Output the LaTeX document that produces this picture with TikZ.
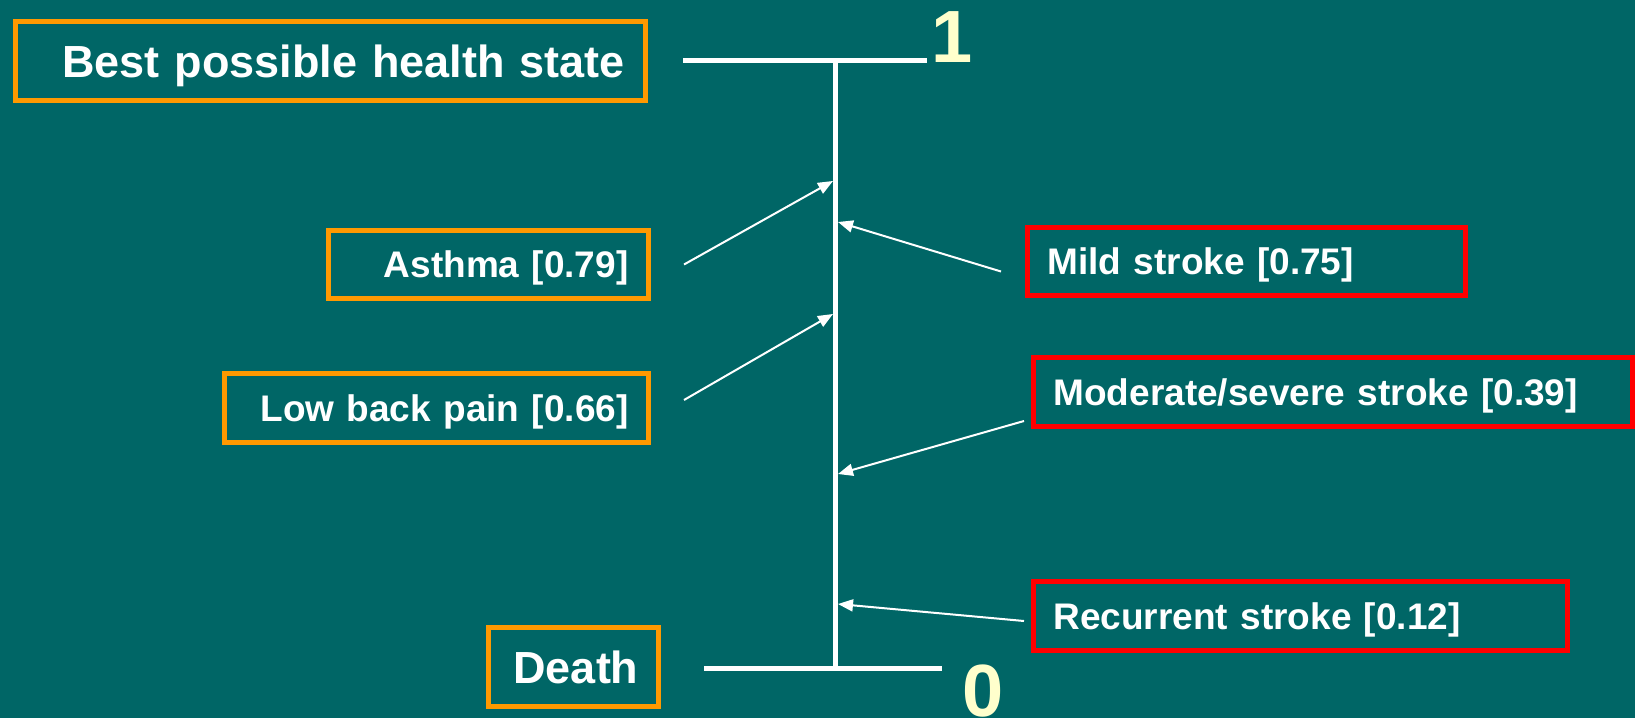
\documentclass[tikz,border=0pt]{standalone}
\usepackage{fontspec}
\setmainfont{Liberation Sans}
\usetikzlibrary{arrows.meta}
\definecolor{bgteal}{RGB}{0,102,102}
\definecolor{boxorange}{RGB}{255,153,0}
\definecolor{boxred}{RGB}{255,0,0}
\definecolor{cream}{RGB}{255,255,204}
\begin{document}
\begin{tikzpicture}[x=.5pt,y=-.5pt,
  healthbox/.style={draw=#1,line width=2.5pt,text=white,inner xsep=10pt,inner ysep=0pt,text depth=0pt},
  leftbox/.style={healthbox=boxorange,align=right},
  rightbox/.style={healthbox=boxred,align=left,font=\fontsize{18.5}{22}\selectfont\bfseries},
  bigtext/.style={font=\fontsize{22.5}{27}\selectfont\bfseries},
  smalltext/.style={font=\fontsize{18.5}{22}\selectfont\bfseries},
  endlabel/.style={text=cream,font=\fontsize{37}{44}\selectfont\bfseries,anchor=base,inner sep=0pt},
  scaleline/.style={draw=white,line width=2.5pt},
  pointer/.style={draw=white,line width=1pt,-{Triangle[length=7.5pt,width=6pt]}}]
\fill[bgteal] (0,0) rectangle (1635,718);
\useasboundingbox (0,0) rectangle (1635,718);
\draw[scaleline] (683,60.5) -- (927,60.5);
\draw[scaleline] (835,60.5) -- (835,668.5);
\draw[scaleline] (704,668.5) -- (942,668.5);
\node[endlabel] (one) at (952,62) {1};
\node[endlabel] (zero) at (983,716) {0};
\node[leftbox,bigtext,text width=295pt,minimum height=39.75pt] (best) at (330,61) {Best possible health state};
\node[leftbox,smalltext,text width=140pt,minimum height=34pt] (asthma) at (488.5,264.5) {Asthma [0.79]};
\node[leftbox,smalltext,text width=192pt,minimum height=34.5pt] (lowback) at (436.5,408) {Low back pain [0.66]};
\node[leftbox,bigtext,text width=65pt,minimum height=39.5pt] (death) at (573.5,667) {Death};
\node[rightbox,text width=199pt,minimum height=34pt] (mild) at (1246.5,261.5) {Mild stroke [0.75]};
\node[rightbox,text width=279.25pt,minimum height=34.5pt] (moderate) at (1332.75,392) {Moderate/severe stroke [0.39]};
\node[rightbox,text width=247pt,minimum height=34.5pt] (recurrent) at (1300.5,616) {Recurrent stroke [0.12]};
\coordinate (v79) at (833,181);
\coordinate (v75) at (838,222);
\coordinate (v66) at (833,314);
\coordinate (v39) at (838,474);
\coordinate (v12) at (838,604);
\draw[pointer] ([xshift=16.5pt]asthma.east) -- (v79);
\draw[pointer] ([shift={(16.5pt,4pt)}]lowback.east) -- (v66);
\draw[pointer] ([shift={(-12pt,-5pt)}]mild.west) -- (v75);
\draw[pointer] ([shift={(-3.5pt,4pt)}]moderate.south west) -- (v39);
\draw[pointer] ([shift={(-3.5pt,-2.5pt)}]recurrent.west) -- (v12);
\end{tikzpicture}
\end{document}
